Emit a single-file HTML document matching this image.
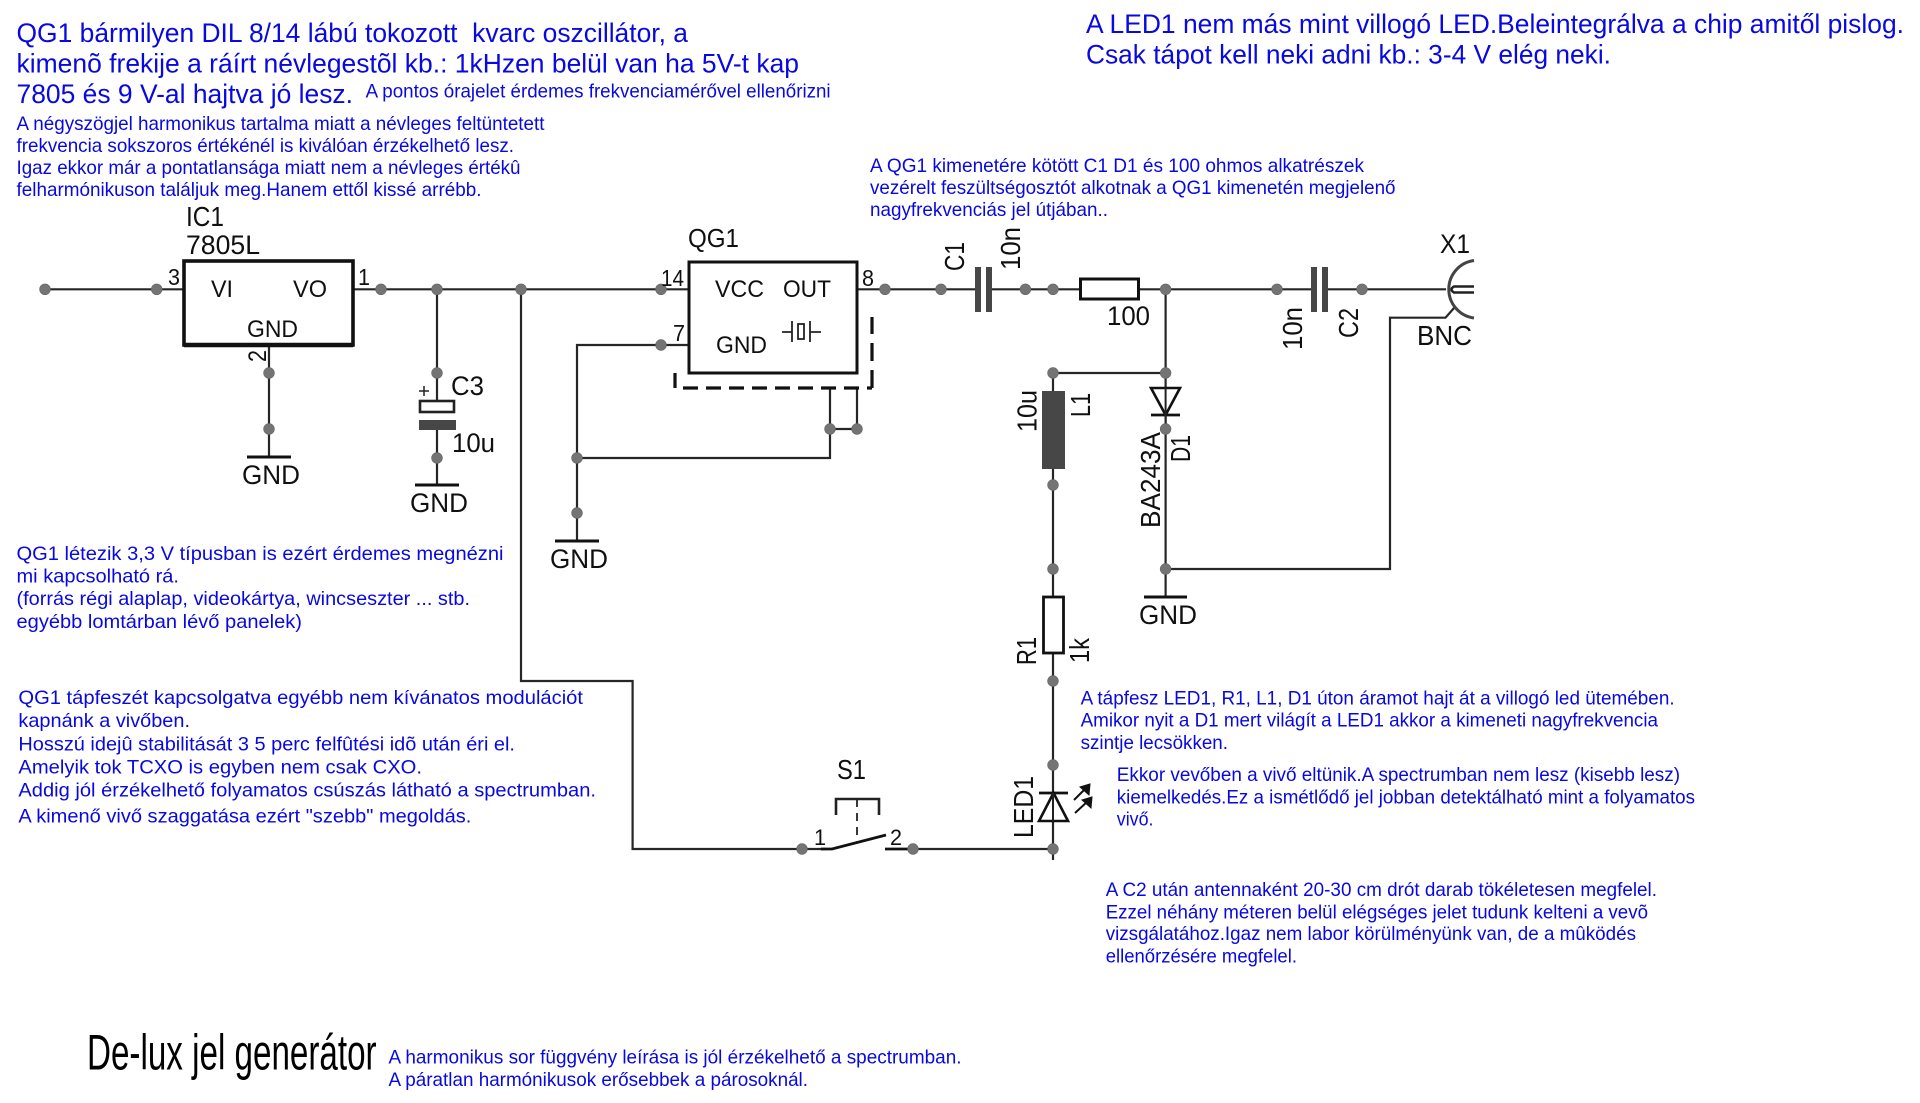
<!DOCTYPE html>
<html><head><meta charset="utf-8"><title>De-lux jel generátor</title>
<style>
html,body{margin:0;padding:0;background:#fff}
svg{display:block}
text{font-family:"Liberation Sans",sans-serif;white-space:pre}
.b{fill:#0808e0;font-size:19.2px}
.B{fill:#0808e0;font-size:26.5px}
.k{fill:#101010;font-size:25px}
.r{fill:#101010;font-size:28px}
.w{fill:none;stroke:#262626;stroke-width:2.2}
.t{fill:none;stroke:#111;stroke-width:3}
.d{fill:#474747}
.n{fill:#747474;stroke:#666;stroke-width:.6}
</style></head><body>
<svg width="1920" height="1103" viewBox="0 0 1920 1103" xmlns="http://www.w3.org/2000/svg">
<rect width="1920" height="1103" fill="#fff"/>

<!-- blue text -->
<g>
<text class="B" x="16.5" y="42" textLength="671.5" lengthAdjust="spacingAndGlyphs">QG1 bármilyen DIL 8/14 lábú tokozott  kvarc oszcillátor, a</text>
<text class="B" x="16.5" y="72.5" textLength="782.5" lengthAdjust="spacingAndGlyphs">kimenõ frekije a ráírt névlegestõl kb.: 1kHzen belül van ha 5V-t kap</text>
<text class="B" x="16.5" y="103" textLength="336.5" lengthAdjust="spacingAndGlyphs">7805 és 9 V-al hajtva jó lesz.</text>
<text class="b" x="365.6" y="97.5" textLength="465" lengthAdjust="spacingAndGlyphs">A pontos órajelet érdemes frekvenciamérővel ellenőrizni</text>
<text class="b" x="16.5" y="130" textLength="528" lengthAdjust="spacingAndGlyphs">A négyszögjel harmonikus tartalma miatt a névleges feltüntetett</text>
<text class="b" x="16.5" y="152" textLength="497.5" lengthAdjust="spacingAndGlyphs">frekvencia sokszoros értékénél is kiválóan érzékelhető lesz.</text>
<text class="b" x="16.5" y="174" textLength="504" lengthAdjust="spacingAndGlyphs">Igaz ekkor már a pontatlansága miatt nem a névleges értékû</text>
<text class="b" x="16.5" y="196" textLength="465" lengthAdjust="spacingAndGlyphs">felharmónikuson találjuk meg.Hanem ettől kissé arrébb.</text>
<text class="B" x="1086" y="33" textLength="818" lengthAdjust="spacingAndGlyphs">A LED1 nem más mint villogó LED.Beleintegrálva a chip amitől pislog.</text>
<text class="B" x="1086" y="63.5" textLength="525" lengthAdjust="spacingAndGlyphs">Csak tápot kell neki adni kb.: 3-4 V elég neki.</text>
<text class="b" x="870" y="172" textLength="494" lengthAdjust="spacingAndGlyphs">A QG1 kimenetére kötött C1 D1 és 100 ohmos alkatrészek</text>
<text class="b" x="870" y="194" textLength="525.5" lengthAdjust="spacingAndGlyphs">vezérelt feszültségosztót alkotnak a QG1 kimenetén megjelenő</text>
<text class="b" x="870" y="216" textLength="238" lengthAdjust="spacingAndGlyphs">nagyfrekvenciás jel útjában..</text>
<text class="b" x="16.5" y="560" textLength="487" lengthAdjust="spacingAndGlyphs">QG1 létezik 3,3 V típusban is ezért érdemes megnézni</text>
<text class="b" x="16.5" y="582.5" textLength="162.5" lengthAdjust="spacingAndGlyphs">mi kapcsolható rá.</text>
<text class="b" x="16.5" y="605" textLength="453.5" lengthAdjust="spacingAndGlyphs">(forrás régi alaplap, videokártya, wincseszter ... stb.</text>
<text class="b" x="16.5" y="628" textLength="285.5" lengthAdjust="spacingAndGlyphs">egyébb lomtárban lévő panelek)</text>
<text class="b" x="18.4" y="704" textLength="564.6" lengthAdjust="spacingAndGlyphs">QG1 tápfeszét kapcsolgatva egyébb nem kívánatos modulációt</text>
<text class="b" x="18.4" y="727" textLength="171.6" lengthAdjust="spacingAndGlyphs">kapnánk a vivőben.</text>
<text class="b" x="18.4" y="750.4" textLength="496.6" lengthAdjust="spacingAndGlyphs">Hosszú idejû stabilitását 3 5 perc felfûtési idõ után éri el.</text>
<text class="b" x="18.4" y="773.4" textLength="403.6" lengthAdjust="spacingAndGlyphs">Amelyik tok TCXO is egyben nem csak CXO.</text>
<text class="b" x="18.4" y="796.7" textLength="577.6" lengthAdjust="spacingAndGlyphs">Addig jól érzékelhető folyamatos csúszás látható a spectrumban.</text>
<text class="b" x="18.4" y="822.6" textLength="453" lengthAdjust="spacingAndGlyphs">A kimenő vivő szaggatása ezért "szebb" megoldás.</text>
<text class="b" x="388.5" y="1063.5" textLength="573" lengthAdjust="spacingAndGlyphs">A harmonikus sor függvény leírása is jól érzékelhető a spectrumban.</text>
<text class="b" x="388.5" y="1086" textLength="419.5" lengthAdjust="spacingAndGlyphs">A páratlan harmónikusok erősebbek a párosoknál.</text>
<text class="b" x="1080.6" y="704.5" textLength="594" lengthAdjust="spacingAndGlyphs">A tápfesz LED1, R1, L1, D1 úton áramot hajt át a villogó led ütemében.</text>
<text class="b" x="1080.6" y="726.7" textLength="577.4" lengthAdjust="spacingAndGlyphs">Amikor nyit a D1 mert világít a LED1 akkor a kimeneti nagyfrekvencia</text>
<text class="b" x="1080.6" y="749" textLength="147.4" lengthAdjust="spacingAndGlyphs">szintje lecsökken.</text>
<text class="b" x="1116.8" y="781" textLength="563.2" lengthAdjust="spacingAndGlyphs">Ekkor vevőben a vivő eltünik.A spectrumban nem lesz (kisebb lesz)</text>
<text class="b" x="1116.8" y="803.5" textLength="578.2" lengthAdjust="spacingAndGlyphs">kiemelkedés.Ez a ismétlődő jel jobban detektálható mint a folyamatos</text>
<text class="b" x="1116.8" y="825.5" textLength="36.7" lengthAdjust="spacingAndGlyphs">vivő.</text>
<text class="b" x="1105.7" y="896" textLength="551.3" lengthAdjust="spacingAndGlyphs">A C2 után antennaként 20-30 cm drót darab tökéletesen megfelel.</text>
<text class="b" x="1105.7" y="918.5" textLength="542.3" lengthAdjust="spacingAndGlyphs">Ezzel néhány méteren belül elégséges jelet tudunk kelteni a vevõ</text>
<text class="b" x="1105.7" y="940" textLength="530.3" lengthAdjust="spacingAndGlyphs">vizsgálatához.Igaz nem labor körülményünk van, de a mûködés</text>
<text class="b" x="1105.7" y="962.6" textLength="191.3" lengthAdjust="spacingAndGlyphs">ellenőrzésére megfelel.</text>
</g>

<text x="87" y="1069.6" style="font-size:50px;fill:#000" textLength="289.6" lengthAdjust="spacingAndGlyphs">De-lux jel generátor</text>

<!-- wires -->
<path class="w" d="M45 289.3H184M353 289.3H689M857 289.3H975M992 289.3H1080.5M1138.4 289.3H1311M1328 289.3H1446"/>
<path class="w" d="M269 345V457M437 289V401M437 430V485"/>
<path class="w" d="M521 289V681H632.6V849H802M802 849H826"/>
<path class="w" d="M689 345H577V541M577 458H830V388M830 429H857M857 429V388"/>
<path class="w" d="M1165.6 289V597M1165.6 569H1390V317.7H1445.5L1454 308"/>
<path class="w" d="M1053 373H1165.6M1053 373V391M1053 469V597M1053 653V860M913 849H1053"/>

<!-- IC1 -->
<rect x="184" y="261" width="169" height="84" fill="#fff" stroke="#111" stroke-width="3.6"/>
<path d="M184 345H353" stroke="#111" stroke-width="4.5"/>
<!-- QG1 -->
<rect x="689" y="262" width="168" height="111" fill="#fff" stroke="#111" stroke-width="3"/>
<path d="M675 373V388H872" fill="none" stroke="#111" stroke-width="3.2" stroke-dasharray="15 8"/>
<path d="M872 388V317" fill="none" stroke="#111" stroke-width="3.2" stroke-dasharray="18 9"/>
<path d="M782 332H792M792 321V342M810 321V342M810 332H821" fill="none" stroke="#222" stroke-width="1.8"/>
<rect x="798" y="324" width="6" height="15" fill="#fff" stroke="#222" stroke-width="1.8"/>

<!-- C3 -->
<rect x="420" y="401" width="34" height="11" fill="#fff" stroke="#222" stroke-width="2.6"/>
<rect class="d" x="419" y="420" width="37" height="10"/>
<path d="M419 391H429M424 386V396" stroke="#222" stroke-width="1.5"/>

<!-- GND bars -->
<path d="M247 457H291M415 485H459M555 541H599M1144 597H1187" stroke="#111" stroke-width="3"/>

<!-- C1, C2, L1 -->
<rect class="d" x="975" y="267" width="6" height="45"/>
<rect class="d" x="986" y="267" width="6" height="45"/>
<rect class="d" x="1311" y="267" width="6" height="45"/>
<rect class="d" x="1322" y="267" width="6" height="45"/>
<rect class="d" x="1042" y="391" width="23" height="78"/>

<!-- R -->
<rect x="1080.5" y="279" width="58" height="20" fill="#fff" stroke="#111" stroke-width="3"/>
<rect x="1043.5" y="597" width="20" height="56" fill="#fff" stroke="#111" stroke-width="2.8"/>

<!-- D1 -->
<path d="M1151 388H1180L1165.6 415Z" fill="#fff" stroke="#111" stroke-width="2.6"/>
<path d="M1151 415H1180" stroke="#111" stroke-width="2.8"/>
<path d="M1165.6 388V429" stroke="#222" stroke-width="2"/>

<!-- LED -->
<path d="M1039 821H1068L1053.5 793Z" fill="#fff" stroke="#111" stroke-width="2.6"/>
<path d="M1039 793H1068" stroke="#111" stroke-width="2.8"/>
<path d="M1053 793V821" stroke="#222" stroke-width="2"/>
<path d="M1074 800L1086 788M1075 813L1088 801" stroke="#111" stroke-width="2"/>
<path d="M1090 784L1089 795L1080 787ZM1092 797L1091 808L1082 800Z" fill="#111" stroke="#111"/>

<!-- switch -->
<path d="M821 849H832L886 835M885 849H913" fill="none" stroke="#111" stroke-width="2.8"/>
<path d="M836 815V799H879V815" fill="none" stroke="#222" stroke-width="2.6"/>
<path d="M857 799V842" fill="none" stroke="#222" stroke-width="1.8" stroke-dasharray="8 6"/>

<!-- BNC -->
<path d="M1474 260.5A29 29 0 0 0 1474 318" fill="none" stroke="#444" stroke-width="3"/>
<path d="M1474 286.5H1454Q1449 289.5 1454 292.5H1474" fill="none" stroke="#222" stroke-width="2.6"/>

<!-- nodes -->
<g>
<circle class="n" cx="45" cy="289.3" r="5.4"/><circle class="n" cx="156.7" cy="289.3" r="5.4"/>
<circle class="n" cx="381" cy="289.3" r="5.4"/><circle class="n" cx="437" cy="289.3" r="5.4"/>
<circle class="n" cx="521" cy="289.3" r="5.4"/><circle class="n" cx="661" cy="289.3" r="5.4"/>
<circle class="n" cx="885" cy="289.3" r="5.4"/><circle class="n" cx="941" cy="289.3" r="5.4"/>
<circle class="n" cx="1025.4" cy="289.3" r="5.4"/><circle class="n" cx="1053" cy="289.3" r="5.4"/>
<circle class="n" cx="1165.6" cy="289.3" r="5.4"/><circle class="n" cx="1277" cy="289.3" r="5.4"/>
<circle class="n" cx="1362" cy="289.3" r="5.4"/>
<circle class="n" cx="269" cy="373" r="5.4"/><circle class="n" cx="269" cy="429" r="5.4"/>
<circle class="n" cx="437" cy="373" r="5.4"/><circle class="n" cx="437" cy="458" r="5.4"/>
<circle class="n" cx="661" cy="345" r="5.4"/>
<circle class="n" cx="577" cy="458" r="5.4"/><circle class="n" cx="577" cy="513" r="5.4"/>
<circle class="n" cx="830" cy="429" r="5.4"/><circle class="n" cx="857" cy="429" r="5.4"/>
<circle class="n" cx="1053" cy="373" r="5.4"/><circle class="n" cx="1165.6" cy="373" r="5.4"/>
<circle class="n" cx="1165.6" cy="429" r="5.4"/><circle class="n" cx="1053" cy="485" r="5.4"/>
<circle class="n" cx="1053" cy="569" r="5.4"/><circle class="n" cx="1165.6" cy="569" r="5.4"/>
<circle class="n" cx="1053" cy="681" r="5.4"/><circle class="n" cx="1053" cy="765" r="5.4"/>
<circle class="n" cx="1053" cy="849" r="5.4"/><circle class="n" cx="913" cy="849" r="5.4"/>
<circle class="n" cx="802" cy="849" r="5.4"/>
</g>

<!-- black labels -->
<text class="k" x="186" y="226" textLength="38" lengthAdjust="spacingAndGlyphs" style="font-size:27.5px">IC1</text>
<text class="k" x="186" y="254" textLength="74" lengthAdjust="spacingAndGlyphs" style="font-size:27px">7805L</text>
<text class="k" x="211" y="297" textLength="22" lengthAdjust="spacingAndGlyphs" style="font-size:24.5px">VI</text>
<text class="k" x="293" y="297" textLength="34" lengthAdjust="spacingAndGlyphs" style="font-size:24.5px">VO</text>
<text class="k" x="247" y="337" textLength="51" lengthAdjust="spacingAndGlyphs" style="font-size:24px">GND</text>
<text class="k" x="168" y="285" textLength="12" lengthAdjust="spacingAndGlyphs" style="font-size:23px">3</text>
<text class="k" x="358" y="285" textLength="12" lengthAdjust="spacingAndGlyphs" style="font-size:23px">1</text>
<text class="r" transform="translate(266 362) rotate(-90)" textLength="12" lengthAdjust="spacingAndGlyphs" style="font-size:25px">2</text>
<text class="k" x="242" y="484" textLength="58" lengthAdjust="spacingAndGlyphs" style="font-size:26.5px">GND</text>
<text class="k" x="410" y="512" textLength="58" lengthAdjust="spacingAndGlyphs" style="font-size:26.5px">GND</text>
<text class="k" x="550" y="568" textLength="58" lengthAdjust="spacingAndGlyphs" style="font-size:26.5px">GND</text>
<text class="k" x="1139" y="624" textLength="58" lengthAdjust="spacingAndGlyphs" style="font-size:26.5px">GND</text>
<text class="k" x="451" y="395" textLength="33" lengthAdjust="spacingAndGlyphs" style="font-size:26.5px">C3</text>
<text class="k" x="452" y="452" textLength="43" lengthAdjust="spacingAndGlyphs" style="font-size:26.5px">10u</text>
<text class="k" x="688" y="247" textLength="51" lengthAdjust="spacingAndGlyphs" style="font-size:26px">QG1</text>
<text class="k" x="661" y="286" textLength="23" lengthAdjust="spacingAndGlyphs" style="font-size:23px">14</text>
<text class="k" x="862" y="286" textLength="12" lengthAdjust="spacingAndGlyphs" style="font-size:23px">8</text>
<text class="k" x="673" y="341" textLength="12" lengthAdjust="spacingAndGlyphs" style="font-size:23px">7</text>
<text class="k" x="715" y="297" textLength="49" lengthAdjust="spacingAndGlyphs" style="font-size:24px">VCC</text>
<text class="k" x="783" y="297" textLength="48" lengthAdjust="spacingAndGlyphs" style="font-size:24px">OUT</text>
<text class="k" x="716" y="353" textLength="51" lengthAdjust="spacingAndGlyphs" style="font-size:24px">GND</text>
<text class="k" x="1107" y="325" textLength="43" lengthAdjust="spacingAndGlyphs" style="font-size:26.5px">100</text>
<text class="k" x="1440" y="253" textLength="30" lengthAdjust="spacingAndGlyphs" style="font-size:26.5px">X1</text>
<text class="k" x="1417" y="345" textLength="55" lengthAdjust="spacingAndGlyphs" style="font-size:27.5px">BNC</text>
<text class="k" x="837" y="779" textLength="29" lengthAdjust="spacingAndGlyphs" style="font-size:27.5px">S1</text>
<text class="k" x="814" y="845" textLength="12" lengthAdjust="spacingAndGlyphs" style="font-size:22.5px">1</text>
<text class="k" x="890" y="845" textLength="12" lengthAdjust="spacingAndGlyphs" style="font-size:22.5px">2</text>
<text class="r" transform="translate(964 271) rotate(-90)" textLength="29" lengthAdjust="spacingAndGlyphs">C1</text>
<text class="r" transform="translate(1020 270) rotate(-90)" textLength="43" lengthAdjust="spacingAndGlyphs">10n</text>
<text class="r" transform="translate(1358 338) rotate(-90)" textLength="30" lengthAdjust="spacingAndGlyphs">C2</text>
<text class="r" transform="translate(1302 350) rotate(-90)" textLength="43" lengthAdjust="spacingAndGlyphs">10n</text>
<text class="r" transform="translate(1036.4 432) rotate(-90)" textLength="42" lengthAdjust="spacingAndGlyphs">10u</text>
<text class="r" transform="translate(1090 417) rotate(-90)" textLength="24" lengthAdjust="spacingAndGlyphs">L1</text>
<text class="r" transform="translate(1160 528) rotate(-90)" textLength="96" lengthAdjust="spacingAndGlyphs">BA243A</text>
<text class="r" transform="translate(1190 462) rotate(-90)" textLength="27" lengthAdjust="spacingAndGlyphs">D1</text>
<text class="r" transform="translate(1036 665) rotate(-90)" textLength="28" lengthAdjust="spacingAndGlyphs">R1</text>
<text class="r" transform="translate(1089 663) rotate(-90)" textLength="25" lengthAdjust="spacingAndGlyphs">1k</text>
<text class="r" transform="translate(1033 838) rotate(-90)" textLength="62" lengthAdjust="spacingAndGlyphs">LED1</text>
</svg>
</body></html>
